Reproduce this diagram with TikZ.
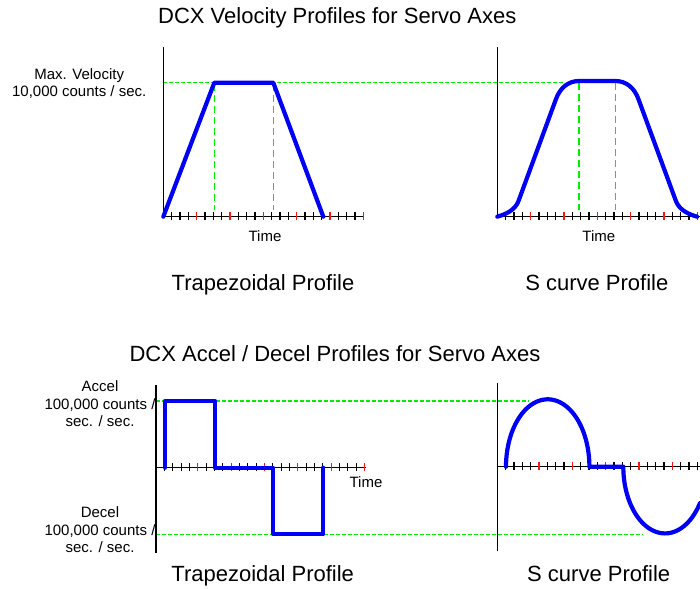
\documentclass[tikz,border=0pt]{standalone}
\usepackage{fontspec}
\setmainfont{Liberation Sans}
\definecolor{levelgreen}{RGB}{0,240,0}
\definecolor{tickred}{RGB}{250,20,20}
\definecolor{profileblue}{RGB}{0,0,245}
\begin{document}
\begin{tikzpicture}[x=1pt,y=-1pt,line join=round]
  \tikzstyle{axis}=[black,line width=1.2pt]
  \tikzstyle{tick}=[black,line width=1.1pt]
  \tikzstyle{redtick}=[tickred,line width=1.1pt]
  \tikzstyle{limit}=[levelgreen,line width=1.2pt,dash pattern=on 4pt off 2pt]
  \tikzstyle{marker}=[levelgreen,line width=1.3pt,dash pattern=on 7pt off 4pt]
  \tikzstyle{profile}=[profileblue,line width=4.2pt,line cap=round]
  \tikzstyle{heading}=[font=\fontsize{22}{26}\selectfont,anchor=base,inner sep=0pt]
  \tikzstyle{note}=[font=\fontsize{15}{18}\selectfont,anchor=base,inner sep=0pt]
  \useasboundingbox (0,0) rectangle (700,588);

  \node[heading] (T_1) at (337.3,24)    {DCX Velocity Profiles for Servo Axes};
  \node[heading] (P_1) at (263,290.7)   {Trapezoidal Profile};
  \node[heading] (P_2) at (596.8,290.7) {S curve Profile};
  \node[note] (V_1) at (79.2,79.3) {Max. Velocity};
  \node[note] (V_2) at (79.2,96.7) {10,000 counts / sec.};
  \node[note] (X_1) at (265,241.7)   {Time};
  \node[note] (X_2) at (598.8,241.7) {Time};

  \node[heading] (T_2) at (335,361.7)   {DCX Accel / Decel Profiles for Servo Axes};
  \node[heading] (P_3) at (262.7,581.7) {Trapezoidal Profile};
  \node[heading] (P_4) at (598.7,581.7) {S curve Profile};
  \node[note] (A_1) at (100,391.7) {Accel};
  \node[note] (A_2) at (100,409.3) {100,000 counts /};
  \node[note] (A_3) at (100,426.7) {sec. / sec.};
  \node[note] (D_1) at (100,517.3) {Decel};
  \node[note] (D_2) at (100,535)   {100,000 counts /};
  \node[note] (D_3) at (100,552.7) {sec. / sec.};
  \node[note] (X_3) at (366,487.7) {Time};

  \draw[limit] (163.3,82.7) -- (563.3,82.7);
  \draw[marker] (214.3,84) -- (214.3,210);
  \draw[marker] (273.3,84) -- (273.3,210);
  \draw[marker] (579,83) -- (579,210);
  \draw[marker] (615.3,83) -- (615.3,210);
  \draw[limit] (156,401) -- (528.3,401);
  \draw[limit] (156,534.3) -- (643.3,534.3);

  \draw[axis] (163.3,47) -- (163.3,216.7) -- (364.3,216.7);
  \draw[axis] (497.3,47) -- (497.3,216.7) -- (700,216.7);
  \draw[axis] (156,385) -- (156,552.7);
  \draw[axis] (156,467.7) -- (365.7,467.7);
  \draw[axis] (497.3,382.7) -- (497.3,550.7);
  \draw[axis] (497.3,466.7) -- (700,466.7);

  \foreach \k in {1,...,24} {
    \draw[tick] ({163.3+8.333*\k},212.2) -- ++(0,8);
    \draw[tick] ({497.3+8.333*\k},212.2) -- ++(0,8);
  }
  \foreach \k in {4,8,...,24} {
    \draw[redtick] ({163.3+8.333*\k},212.2) -- ++(0,8);
    \draw[redtick] ({497.3+8.333*\k},212.2) -- ++(0,8);
  }
  \foreach \k in {0,...,24}
    \draw[tick] ({164.4+8.333*\k},463.2) -- ++(0,8);
  \foreach \k in {0,...,23}
    \draw[tick] ({505.7+8.333*\k},462.2) -- ++(0,8);
  \foreach \k in {4,8,...,24}
    \draw[redtick] ({164.4+8.333*\k},463.2) -- ++(0,8);
  \foreach \k in {4,8,...,20}
    \draw[redtick] ({505.7+8.333*\k},462.2) -- ++(0,8);

  \draw[profile] (163.3,216.7) -- (214.3,82.7) -- (273.3,82.7) -- (323.3,216.7);
  \draw[profile] (497.3,216.7) .. controls (505,214.5) and (515,210.5) .. (518.5,201)
    -- (556,99) .. controls (560,88.1) and (568,81) .. (579,81)
    -- (615.4,81) .. controls (626.4,81) and (634.4,88.1) .. (638.4,99)
    -- (675.9,201) .. controls (679.4,210.5) and (689.4,214.5) .. (697.1,216.7);

  \draw[profile] (165,467.7) -- (165,401) -- (215,401) -- (215,467.7) -- (273.3,467.7)
    -- (273.3,534.3) -- (323.3,534.3) -- (323.3,467.7);
  \draw[profile] plot[domain=180:0,samples=60] ({547.7+41.7*cos(\x)},{466.7-67.4*sin(\x)})
    -- (623.3,466.7)
    -- plot[domain=180:327,samples=60] ({665+41.7*cos(\x)},{466.7-66.7*sin(\x)});
\end{tikzpicture}
\end{document}
